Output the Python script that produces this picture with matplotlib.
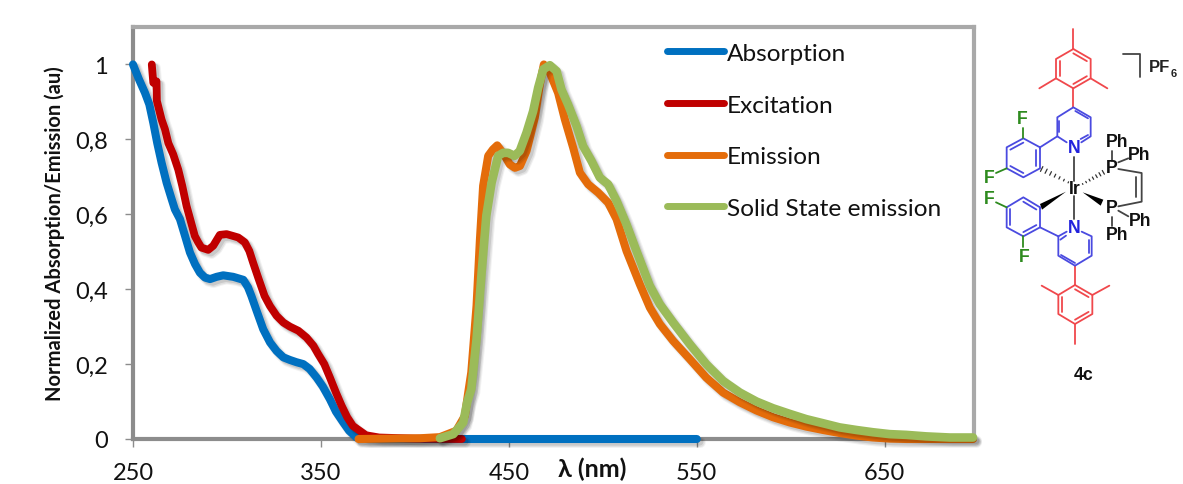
from matplotlib import pyplot as plt
from matplotlib import patheffects as pe
from matplotlib.patches import Polygon

plt.rcParams['font.family'] = ['Lato', 'DejaVu Sans']

# curves
abs_x = [250, 253.2, 256.4, 258.7, 260.8, 262.9, 265.2, 267.9, 270.6, 272.3, 275, 277.7, 280.3, 283, 285.6, 288.3,
         291, 294.5, 298, 303.3, 308.7, 311.2, 313, 315.8, 319.3, 322.9, 326.4, 330, 333.5, 337, 340.6, 344, 347.7,
         351, 354.8, 358, 361.9, 365, 369, 375, 450, 550]
abs_y = [1.0, 0.96, 0.924, 0.893, 0.844, 0.79, 0.738, 0.684, 0.64, 0.613, 0.587, 0.542, 0.498, 0.467, 0.444, 0.431,
         0.427, 0.433, 0.437, 0.433, 0.425, 0.405, 0.382, 0.342, 0.293, 0.258, 0.235, 0.218, 0.211, 0.205, 0.2, 0.187,
         0.164, 0.14, 0.106, 0.073, 0.044, 0.022, 0.004, 0, 0, 0]
exc_x = [260, 260.8, 262.5, 262.7, 265.2, 267, 268.8, 271.4, 274.1, 276.2, 278.5, 280.7, 282.9, 284.7, 286.4, 290,
         292.7, 296.2, 299.8, 303.3, 306, 309.5, 311.9, 313.9, 316.6, 320, 322.9, 326.4, 330, 333.5, 338, 342.3, 346,
         348.5, 351.8, 354.8, 358, 361, 364, 367, 374, 381, 400, 425]
exc_y = [1.0, 0.951, 0.955, 0.903, 0.853, 0.827, 0.79, 0.76, 0.719, 0.676, 0.622, 0.582, 0.542, 0.525, 0.511, 0.505,
         0.516, 0.545, 0.547, 0.542, 0.538, 0.525, 0.502, 0.471, 0.431, 0.382, 0.355, 0.329, 0.311, 0.3, 0.289, 0.271,
         0.249, 0.227, 0.2, 0.164, 0.124, 0.089, 0.058, 0.035, 0.01, 0.004, 0.001, 0]
em_x = [370, 402.7, 413.3, 422, 426.6, 428.4, 430, 432.8, 434.6, 436.3, 439, 441.5, 443.8, 446, 448.4, 450.5, 453.2,
        455.9, 459.4, 463.8, 466.5, 468.6, 471.8, 476.2, 479.8, 484.2, 487.8, 492.2, 497.5, 502.8, 507.3, 512.6,
        519.7, 525, 530.3, 537.4, 546.3, 555, 564, 572.9, 581.8, 590.6, 599.5, 608.3, 617.2, 626, 635, 643.8, 652.7,
        661.5, 697]
em_y = [0, 0.002, 0.005, 0.022, 0.062, 0.125, 0.178, 0.356, 0.533, 0.676, 0.756, 0.773, 0.784, 0.769, 0.751, 0.733,
        0.724, 0.729, 0.769, 0.858, 0.947, 1.0, 0.978, 0.924, 0.853, 0.778, 0.711, 0.68, 0.658, 0.631, 0.587, 0.502,
        0.413, 0.351, 0.307, 0.262, 0.213, 0.164, 0.124, 0.098, 0.076, 0.058, 0.044, 0.033, 0.024, 0.016, 0.009,
        0.004, 0.001, 0, 0]
ss_x = [413.3, 420.4, 425.7, 427.8, 430, 432.8, 435.5, 438, 440.8, 444.3, 447, 449.6, 453, 455.8, 459.4, 462.9, 465.6,
        468.3, 471.8, 475.4, 478, 481.5, 486, 489.5, 494, 498.4, 502.8, 507.3, 512.6, 517.9, 525, 530.3, 537.4, 546.3,
        555, 564, 572.9, 581.8, 590.6, 599.5, 608.3, 617.2, 626, 635, 643.8, 652.7, 661.5, 672, 684.6, 697]
ss_y = [0.002, 0.013, 0.044, 0.098, 0.133, 0.267, 0.444, 0.596, 0.684, 0.756, 0.764, 0.764, 0.756, 0.769, 0.818, 0.875,
        0.938, 0.987, 0.998, 0.982, 0.933, 0.893, 0.836, 0.782, 0.742, 0.698, 0.68, 0.636, 0.573, 0.502, 0.409, 0.36,
        0.311, 0.253, 0.2, 0.155, 0.124, 0.1, 0.082, 0.067, 0.053, 0.042, 0.031, 0.024, 0.018, 0.013, 0.011, 0.007,
        0.004, 0.004]
x_ticks = [250, 350, 450, 550, 650]
y_ticks = [0, 0.2, 0.4, 0.6, 0.8, 1]
y_labels = ['0', '0,2', '0,4', '0,6', '0,8', '1']

W, H = 1183, 485
fig = plt.figure(figsize=(W / 100, H / 100), dpi=100)
ax = fig.add_axes([133 / W, 1 - 440 / H, (974 - 133) / W, (440 - 28) / H])

# soft shadow, a few wide faint strokes under the line
shadow = [pe.SimpleLineShadow(offset=(2.5, -2.5), alpha=0.05, shadow_color='k', linewidth=8),
          pe.SimpleLineShadow(offset=(2.5, -2.5), alpha=0.07, shadow_color='k', linewidth=6.5),
          pe.SimpleLineShadow(offset=(2, -2), alpha=0.1, shadow_color='k', linewidth=5.5),
          pe.Normal()]
for xs, ys, col, name, lw in [(abs_x, abs_y, '#0070c0', 'Absorption', 5.8),
                              (exc_x, exc_y, '#c00000', 'Excitation', 5.6),
                              (em_x, em_y, '#e46c0a', 'Emission', 5.8),
                              (ss_x, ss_y, '#9bbb59', 'Solid State emission', 6.2)]:
    ax.plot(xs, ys, color=col, lw=lw, label=name, clip_on=False, solid_capstyle='round',
            solid_joinstyle='round', path_effects=shadow, zorder=3)

ax.set_xlim(250, 697.5)
ax.set_ylim(0, 1.1)
ax.set_xticks(x_ticks)
ax.set_yticks(y_ticks)
ax.set_yticklabels(y_labels)
ax.tick_params(labelsize=17, length=6, width=1, color='#8c8c8c', labelcolor='#111111')
ax.tick_params(axis='x', pad=10.5)
ax.tick_params(axis='y', pad=12)
for side in ax.spines:
    ax.spines[side].set_color('#a9a9a9')
    ax.spines[side].set_linewidth(3)
ax.spines['left'].set_color('#8c8c8c')
ax.spines['bottom'].set_color('#8c8c8c')

ax.legend(loc='upper left', bbox_to_anchor=((655 - 133) / 841, 0.991), frameon=False, fontsize=17.6,
          handlelength=2.33, handletextpad=0.1, labelspacing=1.25, borderaxespad=0, borderpad=0.5,
          labelcolor='#111111')
for line in ax.get_legend().get_lines():
    line.set_path_effects([pe.Normal()])
    line.set_linewidth(5)

fig.text(55 / W, 1 - 234 / H, 'Normalized Absorption/Emission (au)', rotation=90, fontsize=14.5,
         fontweight='bold', ha='center', va='center', color='#111111')
fig.text(592 / W, 1 - 469 / H, 'λ (nm)', fontsize=18, fontweight='bold', ha='center', va='center',
         color='#111111')

# the molecule, in a layer on top of the chart
mol = fig.add_axes([960 / W, 1 - 400 / H, 223 / W, 400 / H])
mol.set_xlim(0, 669)
mol.set_ylim(1200, 0)
mol.axis('off')
mol.patch.set_alpha(0)

RED, BLUE, GREEN, DARK = '#f0484c', '#4a4ae0', '#2e8b1e', '#444444'


def bonds(points, color, lw=1.3, closed=False):
    if closed:
        points = points + points[:1]
    mol.plot([p[0] for p in points], [p[1] for p in points], color=color, lw=lw, solid_capstyle='round')


def ring(points, color, doubles):
    bonds(points, color, closed=True)
    cx = sum(p[0] for p in points) / 6
    cy = sum(p[1] for p in points) / 6
    for i in doubles:
        a, b = points[i], points[(i + 1) % 6]
        a2 = (cx + (a[0] - cx) * 0.78, cy + (a[1] - cy) * 0.78)
        b2 = (cx + (b[0] - cx) * 0.78, cy + (b[1] - cy) * 0.78)
        bonds([a2, b2], color)


def label(x, y, s, color='#111111', size=12.7):
    mol.text(x, y, s, color=color, fontsize=size, fontweight='bold', ha='center', va='center',
             family=['Liberation Sans', 'DejaVu Sans'])


def hashed(a, b, n=7):
    for i in range(n):
        t = i / (n - 1)
        x = a[0] + (b[0] - a[0]) * t
        y = a[1] + (b[1] - a[1]) * t
        dx, dy = b[1] - a[1], a[0] - b[0]
        size = 0.02 + 0.07 * t
        bonds([(x - dx * size, y - dy * size), (x + dx * size, y + dy * size)], '#333333', lw=0.9)


# mesityl groups
ring([(340, 150), (392, 180), (392, 238), (340, 268), (288, 238), (288, 180)], RED, [0, 2, 4])
for seg in [[(340, 150), (340, 90)], [(392, 238), (442, 268)], [(288, 238), (238, 268)], [(340, 268), (340, 325)]]:
    bonds(seg, RED)
ring([(345, 858), (397, 888), (397, 945), (345, 975), (295, 945), (295, 888)], RED, [0, 2, 4])
for seg in [[(397, 888), (448, 860)], [(295, 888), (245, 860)], [(345, 975), (345, 1035)], [(345, 800), (345, 858)]]:
    bonds(seg, RED)

# pyridines and difluorophenyls
bonds([(320, 430), (292, 412), (292, 355), (340, 325), (392, 355), (392, 412), (364, 430)], BLUE)
bonds([(298, 400), (298, 365)], BLUE)
bonds([(346, 336), (384, 358)], BLUE)
bonds([(384, 408), (362, 420)], BLUE)
bonds([(320, 698), (295, 712), (295, 770), (345, 800), (395, 770), (395, 712), (365, 698)], BLUE)
bonds([(301, 722), (318, 710)], BLUE)
bonds([(303, 768), (345, 792)], BLUE)
bonds([(388, 722), (388, 762)], BLUE)
ring([(240, 445), (240, 508), (190, 535), (140, 508), (140, 445), (190, 418)], BLUE, [0, 2, 4])
ring([(240, 625), (240, 685), (190, 712), (140, 685), (140, 625), (190, 595)], BLUE, [1, 3, 5])
bonds([(292, 412), (240, 445)], BLUE)
bonds([(240, 685), (295, 712)], BLUE)
for seg in [[(190, 418), (190, 388)], [(140, 508), (108, 522)], [(140, 625), (108, 610)], [(190, 712), (190, 745)]]:
    bonds(seg, GREEN)

# around the metal
bonds([(343, 475), (343, 545)], DARK)
bonds([(343, 592), (343, 660)], DARK)
hashed((325, 550), (245, 510))
hashed((368, 555), (430, 520))
mol.add_patch(Polygon([(318, 578), (240, 615), (246, 632)], color='k', lw=0))
mol.add_patch(Polygon([(368, 580), (430, 602), (422, 620)], color='k', lw=0))
for seg in [[(475, 510), (545, 522), (545, 608), (475, 622)], [(527, 535), (527, 595)],
            [(455, 485), (455, 455)], [(475, 490), (505, 478)], [(475, 635), (505, 652)], [(455, 655), (455, 680)]]:
    bonds(seg, DARK)
bonds([(488, 165), (540, 165), (540, 235)], DARK)

for x, y, s in [(343, 568, 'Ir'), (455, 505, 'P'), (455, 625, 'P'), (470, 428, 'Ph'), (538, 468, 'Ph'),
                (540, 665, 'Ph'), (472, 705, 'Ph'), (370, 1125, '4c')]:
    label(x, y, s)
for x, y in [(343, 445), (343, 685)]:
    label(x, y, 'N', '#2222dd')
for x, y in [(188, 358), (88, 535), (88, 598), (192, 772)]:
    label(x, y, 'F', GREEN)
label(597, 202, 'PF', '#222222', 12)
label(641, 222, '6', '#222222', 8)

fig.savefig('out.png', dpi=100)
